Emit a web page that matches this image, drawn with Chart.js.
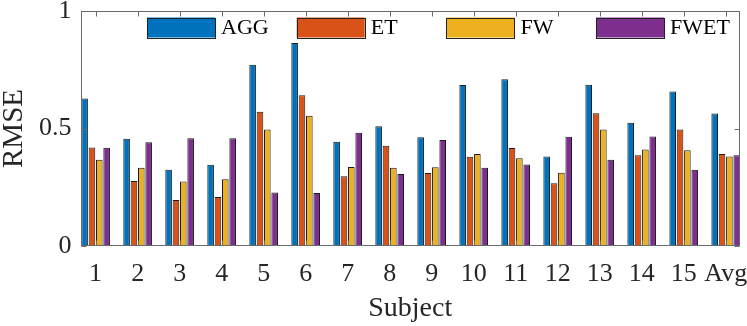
<!DOCTYPE html>
<html lang="en">
<head>
    <meta charset="UTF-8">
    <title>RMSE by subject</title>
    <script src="https://cdn.jsdelivr.net/npm/chart.js@4.4.1/dist/chart.umd.min.js"></script>
    <style>
        html, body {
            margin: 0;
            padding: 0;
            background: #fff;
        }

        #wrap {
            width: 747px;
            height: 326px;
        }
    </style>
</head>
<body>
    <div id="wrap"><canvas id="rmseChart" width="747" height="326"></canvas></div>

    <script>
        // Subjects on the x axis
        const subjects = ['1', '2', '3', '4', '5', '6', '7', '8', '9', '10', '11', '12', '13', '14', '15', 'Avg'];

        // RMSE per method
        const agg  = [0.628, 0.456, 0.325, 0.346, 0.771, 0.864, 0.444, 0.510, 0.463, 0.685, 0.710, 0.381, 0.686, 0.524, 0.657, 0.564];
        const et   = [0.419, 0.277, 0.196, 0.208, 0.571, 0.641, 0.297, 0.427, 0.311, 0.380, 0.417, 0.267, 0.565, 0.386, 0.496, 0.391];
        const fw   = [0.367, 0.333, 0.274, 0.284, 0.496, 0.554, 0.336, 0.333, 0.335, 0.391, 0.373, 0.312, 0.496, 0.411, 0.407, 0.381];
        const fwet = [0.418, 0.442, 0.459, 0.459, 0.228, 0.226, 0.482, 0.306, 0.451, 0.333, 0.347, 0.465, 0.367, 0.466, 0.325, 0.386];

        const methods = ['AGG', 'ET', 'FW', 'FWET'];
        const colors = ['#0072BD', '#D95319', '#EDB120', '#7E2F8E'];
        const yTicks = [0, 0.5, 1];

        const serif = 'Liberation Serif';
        const textColor = '#262626';

        const toPoints = arr => arr.map((v, i) => ({ x: i + 1, y: v }));

        // box, inward tick marks and the legend inside the axes
        const framePlugin = {
            id: 'frame',
            afterDatasetsDraw(chart) {
                const { ctx, chartArea: a, scales: { x, y } } = chart;
                ctx.save();
                ctx.strokeStyle = '#6a6a6a';
                ctx.lineWidth = 1;
                const L = Math.round(a.left) + 0.5;
                const R = Math.round(a.right) - 0.5;
                const T = Math.round(a.top) + 0.5;
                const B = Math.round(a.bottom) - 0.5;
                ctx.strokeRect(L, T, R - L, B - T);

                ctx.beginPath();
                subjects.forEach((s, i) => {
                    const px = Math.round(x.getPixelForValue(i + 1)) + 0.5;
                    ctx.moveTo(px, B); ctx.lineTo(px, B - 5);
                    ctx.moveTo(px, T); ctx.lineTo(px, T + 5);
                });
                yTicks.forEach(v => {
                    const py = Math.round(y.getPixelForValue(v)) + 0.5;
                    ctx.moveTo(L, py); ctx.lineTo(L + 5, py);
                    ctx.moveTo(R, py); ctx.lineTo(R - 5, py);
                });
                ctx.stroke();

                // legend
                ctx.font = '22px "' + serif + '"';
                ctx.textBaseline = 'middle';
                ctx.textAlign = 'left';
                methods.forEach((m, i) => {
                    const bx = a.left + 66.5 + i * 149.7;
                    const by = a.top + 6.5;
                    ctx.fillStyle = colors[i];
                    ctx.fillRect(bx, by, 68, 20);
                    ctx.strokeStyle = '#222';
                    ctx.strokeRect(Math.round(bx) + 0.5, Math.round(by) + 0.5, 68, 20);
                    ctx.fillStyle = '#000';
                    ctx.fillText(m, bx + 74, by + 11);
                });
                ctx.restore();
            }
        };

        new Chart(document.getElementById('rmseChart'), {
            type: 'bar',
            data: {
                datasets: [agg, et, fw, fwet].map((arr, i) => ({
                    label: methods[i],
                    data: toPoints(arr),
                    backgroundColor: colors[i],
                    borderColor: '#1a1a1a',
                    borderWidth: 1,
                    categoryPercentage: 0.7,
                    barPercentage: 0.9
                }))
            },
            options: {
                responsive: false,
                animation: false,
                devicePixelRatio: 1,
                layout: {
                    padding: { top: 11, right: 7, left: 0, bottom: 0 }
                },
                plugins: {
                    legend: { display: false },
                    tooltip: { enabled: false }
                },
                scales: {
                    x: {
                        type: 'linear',
                        offset: false,
                        min: 0.64,
                        max: 16.34,
                        grid: { display: false, drawTicks: false },
                        border: { display: false },
                        afterBuildTicks: scale => {
                            scale.ticks = subjects.map((s, i) => ({ value: i + 1 }));
                        },
                        afterFit: scale => {
                            scale.height = 80;
                            scale.paddingLeft = 0;
                            scale.paddingRight = 0;
                        },
                        ticks: {
                            autoSkip: false,
                            maxRotation: 0,
                            padding: 13,
                            color: textColor,
                            font: { family: serif, size: 26 },
                            callback: value => subjects[value - 1]
                        },
                        title: {
                            display: true,
                            text: 'Subject',
                            color: textColor,
                            font: { family: serif, size: 28, lineHeight: 1 },
                            padding: { top: 0, bottom: 3 }
                        }
                    },
                    y: {
                        min: 0,
                        max: 1,
                        grid: { display: false, drawTicks: false },
                        border: { display: false },
                        afterBuildTicks: scale => {
                            scale.ticks = yTicks.map(v => ({ value: v }));
                        },
                        afterFit: scale => {
                            scale.width = 80.5;
                            scale.paddingTop = 0;
                            scale.paddingBottom = 0;
                        },
                        ticks: {
                            padding: 9,
                            color: textColor,
                            font: { family: serif, size: 26 },
                            callback: value => String(value)
                        },
                        title: {
                            display: true,
                            text: 'RMSE',
                            color: textColor,
                            font: { family: serif, size: 29, lineHeight: 1 },
                            padding: { top: 0, bottom: 0 }
                        }
                    }
                }
            },
            plugins: [framePlugin]
        });
    </script>
</body>
</html>
